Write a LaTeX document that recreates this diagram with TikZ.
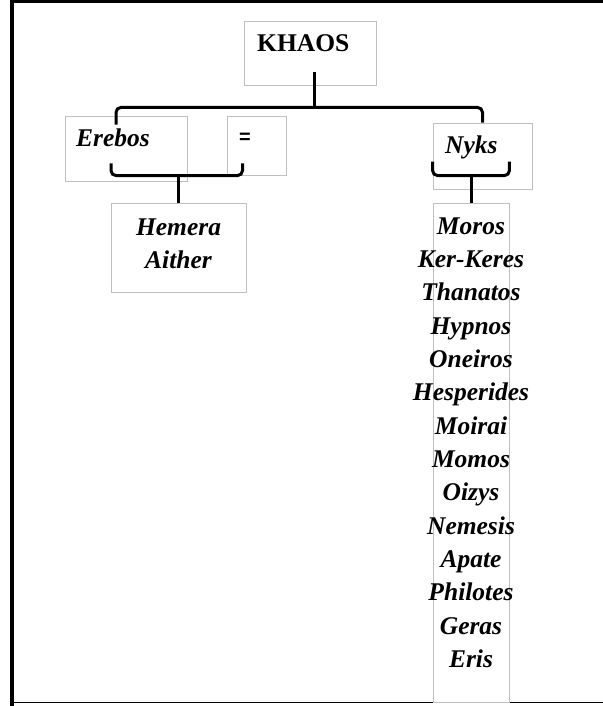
\documentclass[tikz,border=0pt]{standalone}
\usepackage{fontspec}
\setmainfont{Liberation Serif}
\newfontfamily\eqfont{Liberation Sans}
\tikzset{
  box/.style 2 args={draw=black!25, line width=0.8bp, inner sep=0pt,
    minimum width=#1bp, minimum height=#2bp},
  godname/.style={font=\fontsize{25.6}{33}\selectfont\bfseries\itshape, inner sep=0pt},
  bracket/.style={line width=3bp, rounded corners=5bp},
}
\begin{document}
\begin{tikzpicture}[x=1bp,y=-1bp]
    \useasboundingbox (0,0) rectangle (603,706);
    % cadre
    \draw[line width=3.5bp] (11.75,720) -- (11.75,1.5) -- (620,1.5);
    \draw[line width=1.5bp] (10,702.5) -- (620,702.5);
    % boites
    \node[box={132}{64}] (khaos) at (310,53) {};
    \node[box={122}{65}] (erebos) at (126,148.5) {};
    \node[box={59}{59}] (eq) at (256.5,145.5) {};
    \node[box={99}{66}] (nyks) at (482.5,156) {};
    \node[box={135}{89}] (hemera) at (178.5,247.5) {};
    \node[box={76}{499}] (list) at (471,452.5) {};
    % noms
    \node[godname, font=\fontsize{25.6}{33}\selectfont\bfseries, anchor=base west] (khaos-txt) at (257,52) {KHAOS};
    \node[godname, anchor=base west] (erebos-txt) at (76,146) {Erebos};
    \node[inner sep=0pt, font=\eqfont\fontsize{20}{20}\selectfont\bfseries] (eq-txt) at (245,138) {=};
    \node[godname, anchor=base west] (nyks-txt) at (445,153) {Nyks};
    \node[godname, anchor=base] (hemera-txt) at (178.5,235) {Hemera};
    \node[godname, anchor=base] (aither-txt) at (178.5,268) {Aither};
    \foreach \name [count=\i from 0] in {Moros, Ker-Keres, Thanatos, Hypnos,
        Oneiros, Hesperides, Moirai, Momos, Oizys, Nemesis, Apate, Philotes,
        Geras, Eris}
      \node[godname, anchor=base] (child\i) at (471,234+33.35*\i) {\name};
    % accolades
    \draw[bracket] ([xshift=4bp,yshift=13bp]khaos.south) -- ([xshift=4bp,yshift=-22bp]khaos.south);
    \draw[bracket] ([xshift=-10bp,yshift=-9bp]erebos.north) |- ([xshift=4bp,yshift=-22bp]khaos.south) -| (nyks.north);
    \draw[bracket] ([xshift=-15bp,yshift=18bp]erebos.south) |- ([yshift=27bp]hemera.north) -| ([xshift=-14bp,yshift=12bp]eq.south);
    \draw[bracket] (hemera.north) -- ([yshift=27bp]hemera.north);
    \draw[bracket] ([yshift=41bp]list.north west) |- ([yshift=27bp]list.north) -| ([yshift=41bp]list.north east);
    \draw[bracket] (list.north) -- ([yshift=27bp]list.north);
\end{tikzpicture}
\end{document}
